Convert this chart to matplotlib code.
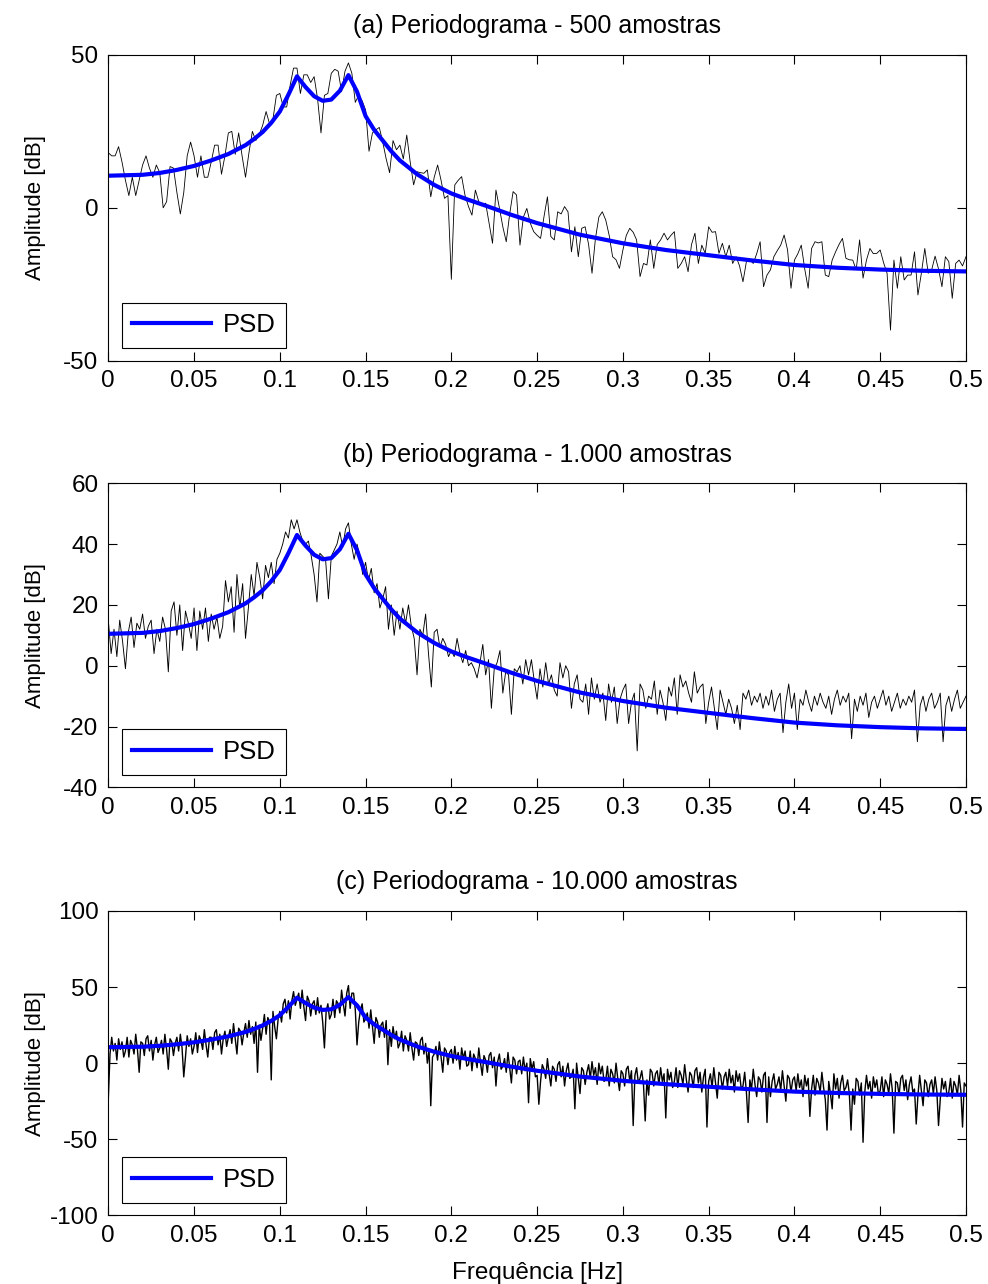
import numpy as np
import matplotlib
matplotlib.use("Agg")
import matplotlib.pyplot as plt

plt.rcParams['font.family'] = ['Liberation Sans', 'DejaVu Sans']
plt.rcParams['axes.unicode_minus'] = False

# blue curve (theoretical PSD)
psd_freq = [0, 0.02, 0.03, 0.04, 0.05, 0.06, 0.07, 0.08, 0.085, 0.09, 0.095,
            0.1, 0.105, 0.11, 0.115, 0.12, 0.125, 0.13, 0.135, 0.14, 0.145,
            0.15, 0.155, 0.16, 0.165, 0.17, 0.18, 0.19, 0.2, 0.21, 0.22,
            0.235, 0.25, 0.275, 0.3, 0.325, 0.35, 0.375, 0.4, 0.425, 0.45,
            0.475, 0.5]
psd_db = [10.5, 10.8, 11.4, 12.4, 13.7, 15.5, 17.6, 20.5, 22.5, 24.8, 27.8,
          31.5, 37, 43, 39.5, 36.5, 35, 35.4, 38.3, 43.4, 38,
          30, 25.5, 22, 18.5, 15.5, 11, 7.5, 4.7, 2.6, 0.7,
          -2.3, -5, -8.8, -11.6, -13.8, -15.5, -17.2, -18.7, -19.6, -20.2,
          -20.6, -20.8]

# periodogram, 500 samples (251 bins, 0 .. 0.5 Hz)
amp_500 = [
    18, 17, 17, 20, 15, 9, 4, 10, 4, 9,
    14, 17, 13, 10, 14, 11.5, 0, 2, 13.5, 13,
    5, -2, 5, 17, 21.5, 17, 10, 17, 10, 10,
    15, 20.5, 20.5, 11, 17, 24.5, 25, 17.5, 24.5, 17,
    10, 18, 25, 22, 24, 27, 31.5, 27.5, 29, 36.8,
    37.4, 33, 33, 40, 45.7, 45.7, 37.4, 43.5, 43.5, 41,
    42.9, 35.7, 24.5, 36.8, 37.4, 44, 45.3, 44.7, 38, 44.7,
    47.4, 44, 34.5, 36.8, 35, 32, 18.5, 24.5, 25.5, 26.3,
    21.5, 16, 11.5, 22, 19, 20.5, 16, 23.8, 15, 7.5,
    11.8, 11.5, 11.3, 12.4, 3.6, 10, 14, 9, 3.1, 4,
    -23.4, 7.5, 9, 10.2, 4, 0.4, -2.4, 5.8, 2, 0.9,
    1.5, -5, -11.6, 5.8, 0, -6.2, -11.1, -2, 5.3, 4.2,
    -12.2, -3, -0.2, -5, -7.8, -9, -10, -2.9, 3.6, -9.4,
    -10.5, -1.3, -2, 0.4, -1.3, -14.4, -6.2, -16, -6.7, -6.2,
    -12, -21.4, -10, -3, -1.3, -4, -9, -16, -17, -19.8,
    -13.8, -9, -6.7, -8, -10.5, -22.5, -18.2, -18.7, -10.5, -19.8,
    -12, -10.5, -8.3, -10.5, -9, -7.8, -19.8, -18.2, -16, -20.9,
    -12, -8.3, -18.2, -12.2, -14.9, -6.2, -8, -7.8, -14.9, -11.6,
    -16, -12.2, -18.2, -16, -19, -24.2, -17.6, -17, -18.2, -15,
    -11.1, -25.8, -22, -20.3, -16, -14, -12.2, -8.9, -13.8, -26.3,
    -17.1, -15, -12.2, -20, -26.3, -13.3, -11.1, -11.5, -11.1, -22,
    -22.5, -17.1, -14.4, -12, -10, -16.5, -17, -17.1, -20.3, -10.5,
    -23, -17.1, -13.3, -15, -14.9, -13.8, -18, -21.4, -40, -17.1,
    -26.3, -16, -23.6, -22, -22, -14.4, -28.5, -21.4, -13.3, -21.4,
    -20.3, -15.8, -20, -25.8, -16, -17.6, -29.6, -18.2, -17.1, -19,
    -16]

# periodogram, 1.000 samples (shown with 301 points)
amp_1000 = [
    15, 4, 12, 3, 15, 8, -1, 11, 16, 6,
    14, 12, 17, 9, 13, 15, 4, 12, 8, 16,
    12, -2, 18, 21, 10, 20, 5, 18, 14, 9,
    19, 5, 18, 12, 19, 8, 17, 12, 16, 9,
    13, 28, 21, 26, 11, 30, 19, 27, 9, 19,
    30, 23, 34, 29, 22, 33, 29, 34, 27, 35,
    37, 40, 44, 42, 48, 45, 48, 44, 41, 40,
    41, 36, 30, 21, 37, 36, 35, 22, 36, 38,
    40, 44, 39, 45, 47, 40, 35, 40, 36, 30,
    34, 28, 32, 24, 27, 19, 22, 26, 12, 20,
    10, 18, 12, 19, 14, 20, 13, 9, -3, 12,
    10, 17, 4, -7, 11, 12, 6, 9, 7, 3,
    5, 3, 9, 4, 1, 5, 0, 1, -1, -4,
    1, 7, -3, 2, -14, -1, 1, 5, -9, -2,
    -3, -16, -1, -2, 0, -6, 2, -3, 2, -5,
    -11, -1, -7, 1, -6, -3, -8, -10, 1, -4,
    0, -2, -14, -6, -3, -11, -12, -6, -16, -4,
    -11, -6, -12, -9, -18, -6, -12, -7, -19, -11,
    -8, -6, -19, -12, -9, -28, -6, -8, -14, -10,
    -11, -5, -16, -8, -12, -18, -7, -10, -4, -16,
    -3, -7, -5, -9, -12, -2, -9, -7, -6, -19,
    -12, -7, -14, -21, -8, -12, -16, -11, -14, -19,
    -13, -21, -9, -11, -8, -13, -10, -12, -9, -14,
    -10, -13, -8, -15, -11, -9, -22, -12, -6, -14,
    -9, -21, -11, -13, -8, -12, -15, -10, -13, -9,
    -12, -14, -10, -16, -11, -8, -13, -10, -12, -9,
    -24, -11, -15, -10, -13, -9, -17, -12, -10, -14,
    -11, -8, -13, -10, -15, -12, -9, -14, -11, -13,
    -10, -12, -8, -25, -13, -10, -15, -11, -9, -14,
    -12, -9, -25, -13, -10, -15, -11, -8, -14, -12,
    -10]

# periodogram, 10.000 samples (shown with 501 points)
amp_10000 = [
    -24, 6, 17, 8, 13, 2, 16, 9, 14, 4,
    8, 17, 4, 15, 12, 6, 19, 9, -6, 14,
    13, 5, 16, 18, 8, 15, 2, 12, 17, 7,
    10, 15, 6, 19, 9, -4, 16, 14, 5, 13,
    17, 8, 19, 10, -9, 4, 18, 11, 16, 6,
    11, 20, 7, 18, 15, 9, 22, 12, 4, 17,
    17, 9, 20, 22, 12, 19, 6, 16, 21, 11,
    17, 22, 13, 26, 16, 6, 23, 21, 12, 20,
    26, 17, 28, 19, 24, 13, 27, -6, 25, 15,
    23, 32, 19, 30, 27, -11, 34, 24, 16, 29,
    34, 27, 39, 42, 33, 41, 29, 41, 47, 38,
    42, 46, 36, 48, 37, 28, 44, 41, 31, 39,
    41, 32, 43, 33, 38, 27, 10, 34, 39, 29,
    32, 42, 30, 41, 39, 33, 48, 39, 31, 46,
    51, 36, 46, 46, 35, 12, 27, 35, 39, 27,
    29, 33, 23, 35, 24, 13, 30, 27, 17, 25,
    27, 17, 28, -1, 22, 11, 24, 16, 21, 10,
    13, 21, 8, 18, 15, 8, 20, 10, 2, 14,
    13, 5, 15, 17, 6, 13, 0, 9, -28, 4,
    6, 11, 2, 14, 4, -6, 10, 8, -1, 7,
    9, 0, 11, 2, 7, -4, 10, 3, 8, -2,
    -1, 8, -5, 6, 3, -3, 10, 0, -8, 5,
    2, -6, 5, 7, -3, 4, -15, 1, 6, -4,
    -2, 3, -6, 7, -3, -13, 4, 2, -7, 1,
    2, -7, 4, -5, 0, -26, 3, -4, 1, -9,
    -8, -27, -12, -1, -4, -10, 3, -7, -15, -2,
    -4, -12, -1, 1, -9, -2, -15, -5, 0, -10,
    -9, -4, -30, 0, -10, -20, -3, -5, -14, -6,
    -1, -10, 1, -8, -3, -14, 0, -7, -2, -12,
    -11, -2, -15, -4, -7, -13, 0, -10, -18, -5,
    -7, -15, -4, -2, -12, -5, -41, -8, -3, -13,
    -10, -5, -14, -38, -11, -21, -4, -6, -15, -7,
    -5, -14, -3, -12, -7, -36, -4, -11, -6, -16,
    -12, -3, -16, -5, -8, -14, -1, -11, -19, -6,
    -8, -16, -5, -3, -13, -6, -19, -9, -4, -42,
    -12, -7, -16, -3, -13, -23, -6, -8, -17, -9,
    -6, -15, -4, -13, -8, -19, -5, -12, -7, -17,
    -15, -6, -19, -39, -11, -17, -4, -14, -22, -9,
    -11, -19, -8, -6, -39, -9, -22, -12, -7, -17,
    -14, -9, -18, -5, -15, -25, -8, -10, -19, -11,
    -9, -18, -7, -16, -11, -22, -8, -15, -10, -35,
    -17, -8, -21, -10, -13, -19, -6, -16, -24, -44,
    -12, -20, -30, -7, -17, -10, -23, -13, -8, -18,
    -16, -11, -20, -44, -17, -27, -10, -12, -21, -13,
    -52, -19, -8, -17, -12, -23, -9, -16, -11, -21,
    -18, -9, -22, -11, -14, -20, -7, -17, -46, -12,
    -13, -21, -10, -8, -18, -11, -24, -14, -9, -19,
    -17, -40, -21, -8, -18, -28, -11, -13, -22, -14,
    -11, -20, -9, -18, -41, -24, -10, -17, -12, -22,
    -19, -10, -23, -12, -15, -21, -8, -18, -42, -13,
    -15]

titles = ["(a) Periodograma - 500 amostras",
          "(b) Periodograma - 1.000 amostras",
          "(c) Periodograma - 10.000 amostras"]
y_limits = [(-50, 50), (-40, 60), (-100, 100)]
y_ticks = [[-50, 0, 50], [-40, -20, 0, 20, 40, 60], [-100, -50, 0, 50, 100]]
x_ticks = [0, 0.05, 0.1, 0.15, 0.2, 0.25, 0.3, 0.35, 0.4, 0.45, 0.5]
x_tick_labels = ["0", "0.05", "0.1", "0.15", "0.2", "0.25", "0.3", "0.35",
                 "0.4", "0.45", "0.5"]

fig = plt.figure(figsize=(9.88, 12.84), dpi=100)

# axes boxes in figure fractions
boxes = [[0.1096, 0.7191, 0.8681, 0.2381],
         [0.1096, 0.3868, 0.8681, 0.2368],
         [0.1096, 0.0535, 0.8681, 0.2370]]
series = [amp_500, amp_1000, amp_10000]
widths = [0.6, 0.65, 1.0]

for k in range(3):
    ax = fig.add_axes(boxes[k])
    amp = series[k]
    f = np.linspace(0, 0.5, len(amp))
    ax.plot(f, amp, color='black', lw=widths[k])
    psd_line, = ax.plot(psd_freq, psd_db, color=(0, 0, 1), lw=3)

    ax.set_xlim(0, 0.5)
    ax.set_ylim(*y_limits[k])
    ax.set_xticks(x_ticks)
    ax.set_xticklabels(x_tick_labels)
    ax.set_yticks(y_ticks[k])
    ax.tick_params(direction='in', top=True, right=True, length=6.5,
                   width=0.8, labelsize=17.5, pad=7)
    for s in ax.spines.values():
        s.set_linewidth(0.8)

    ax.set_title(titles[k], fontsize=18, pad=15.5)
    ax.set_ylabel('Amplitude [dB]', fontsize=16)
    ax.yaxis.set_label_coords(-0.073, 0.5)

    leg = ax.legend([psd_line], ['PSD'], loc='lower left',
                    bbox_to_anchor=(0.0156, 0.0406), borderaxespad=0,
                    fontsize=18.5, handlelength=3.07, handletextpad=0.43,
                    borderpad=0.42, fancybox=False, framealpha=1)
    leg.get_frame().set_edgecolor('black')
    leg.get_frame().set_linewidth(0.8)

    if k == 2:
        ax.set_xlabel('Frequência [Hz]', fontsize=17.5, labelpad=11)

fig.savefig('out.png', dpi=100)
